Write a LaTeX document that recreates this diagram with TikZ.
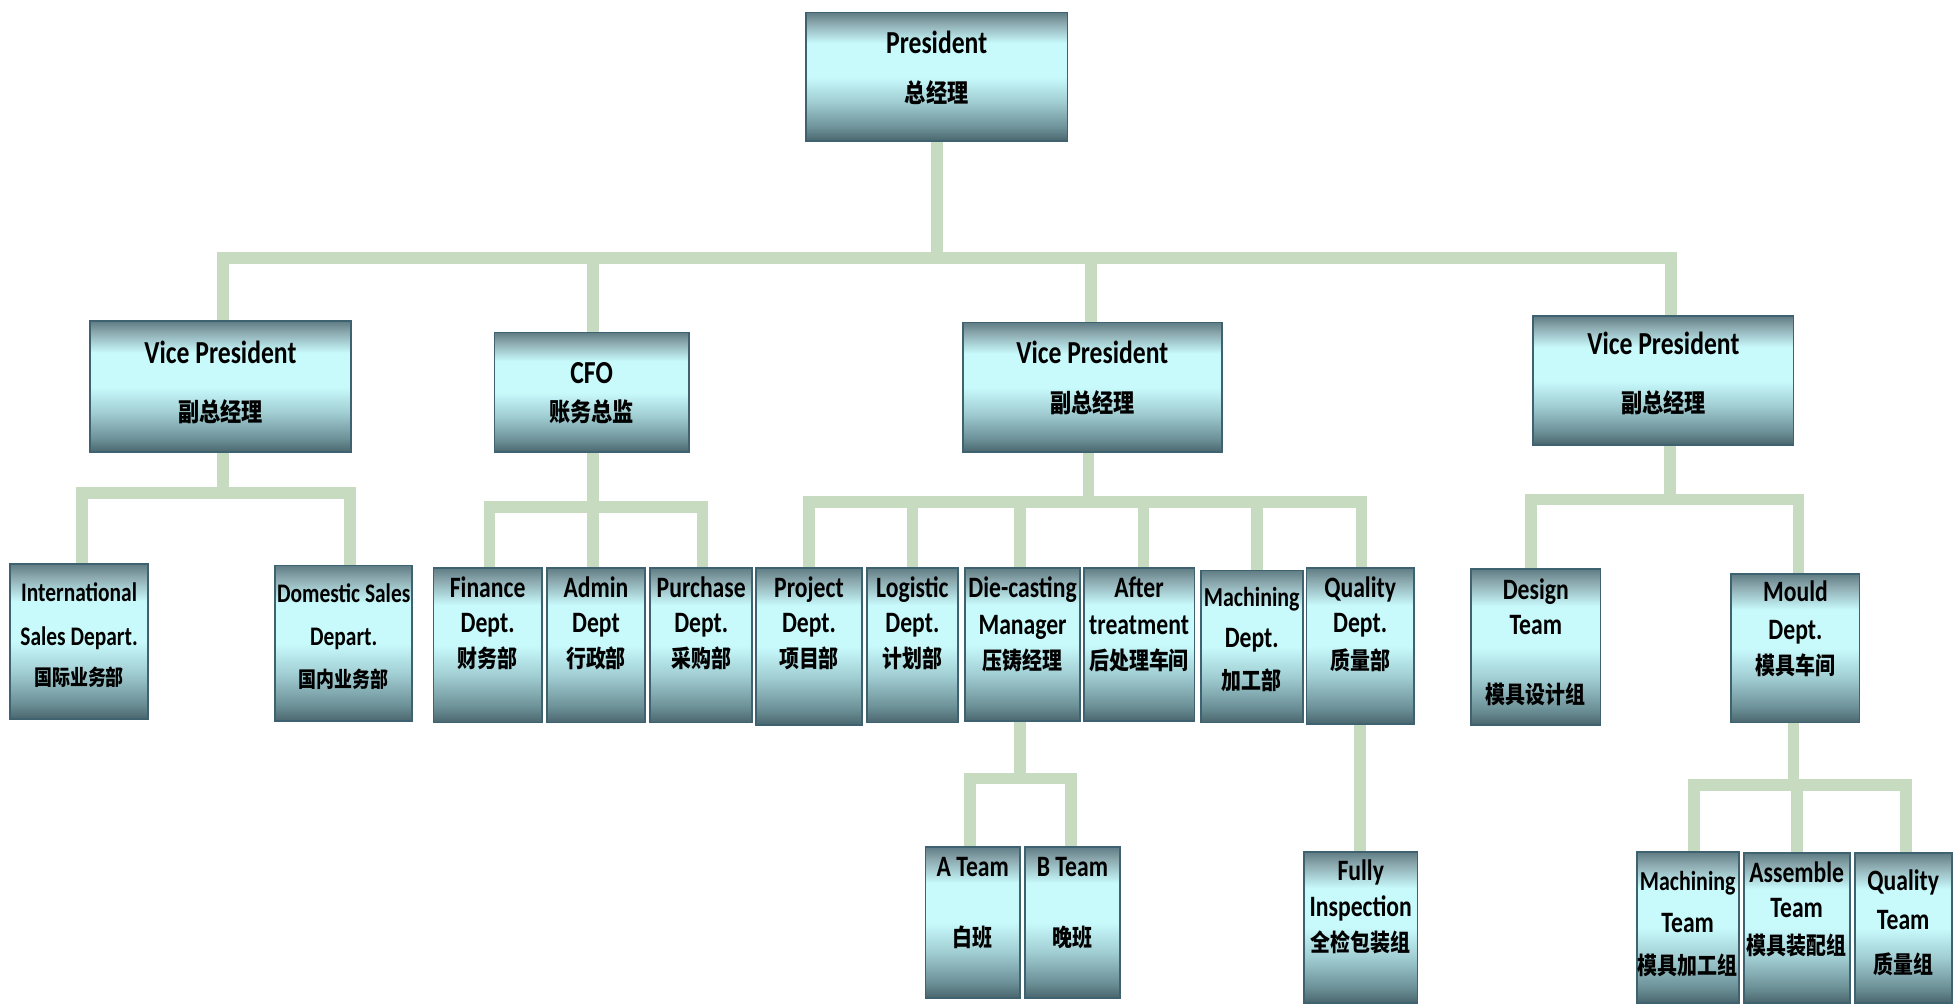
\documentclass[tikz,border=0pt]{standalone}
\usepackage{fontspec}
\setmainfont{Carlito}
\newfontfamily\cjk{Noto Sans CJK SC}
\usetikzlibrary{fit,backgrounds,calc}
\definecolor{sha}{RGB}{74,102,110}
\definecolor{shb}{RGB}{108,144,151}
\definecolor{shc}{RGB}{160,205,210}
\definecolor{shd}{RGB}{200,250,252}
\definecolor{she}{RGB}{138,168,174}
\definecolor{shf}{RGB}{96,124,132}
\definecolor{bord}{RGB}{62,98,112}
\definecolor{lineg}{RGB}{198,219,191}
\pgfdeclareverticalshading{boxshade}{100bp}{color(0bp)=(sha); color(25bp)=(sha); color(30bp)=(shb); color(40bp)=(shc); color(50bp)=(shd); color(63bp)=(shd); color(71bp)=(she); color(75bp)=(shf); color(100bp)=(shf)}
\newcommand\enA{\bfseries\fontsize{10.3}{12}\selectfont}
\newcommand\enB{\bfseries\fontsize{9.5}{11}\selectfont}
\newcommand\enC{\bfseries\fontsize{8.6}{10}\selectfont}
\newcommand\enD{\bfseries\fontsize{8.8}{10}\selectfont}
\newcommand\zhA{\cjk\bfseries\fontsize{8.5}{10}\selectfont}
\newcommand\zhB{\cjk\bfseries\fontsize{8}{10}\selectfont}
\newcommand\zhC{\cjk\bfseries\fontsize{7.2}{9}\selectfont}
\newcommand\bx[5]{\node[orgbox, fit={(#2,#3) (#4,#5)}] (#1) {};}
\newcommand\te[4]{\node[txt, text height=7.6pt] (#1) at (#2.center |- 0,#3) {\scalebox{1}[1.25]{#4}};}
\newcommand\tz[4]{\node[txt, text height=7.2pt] (#1) at (#2.center |- 0,#3) {\scalebox{1}[1.2]{#4}};}
\begin{document}
\begin{tikzpicture}[x=0.5pt,y=-0.5pt,
  orgbox/.style={draw=bord, line width=0.7pt, shading=boxshade, inner sep=0pt},
  txt/.style={inner sep=0pt, text depth=0pt, anchor=center, text=black},
  conn/.style={draw=lineg, line width=4.7pt, line join=miter}]
\useasboundingbox (0,0) rectangle (1568,807);
% boxes
\bx{pres}{647}{10}{857}{113}
\bx{vpa}{72}{258}{282}{363}
\bx{cfo}{397}{267}{553}{363}
\bx{vpb}{773}{259}{981}{363}
\bx{vpc}{1231}{254}{1440}{357}
\bx{intl}{8}{453}{119}{577}
\bx{dom}{221}{454}{331}{579}
\bx{fin}{348}{456}{435}{580}
\bx{adm}{439}{456}{518}{580}
\bx{pur}{522}{456}{604}{580}
\bx{prj}{607}{456}{692}{582}
\bx{lgs}{696}{456}{769}{580}
\bx{die}{775}{456}{867}{579}
\bx{aft}{870}{456}{959}{579}
\bx{mac}{964}{458}{1046}{580}
\bx{qua}{1049}{456}{1135}{581}
\bx{des}{1181}{457}{1285}{582}
\bx{mou}{1390}{461}{1493}{580}
\bx{tma}{743}{680}{819}{801}
\bx{tmb}{823}{680}{899}{801}
\bx{ful}{1047}{684}{1138}{805}
\bx{mct}{1314}{684}{1396}{805}
\bx{ast}{1400}{685}{1485}{805}
\bx{qlt}{1489}{685}{1567}{805}
% texts
\te{pres1}{pres}{35}{\enA President}
\tz{pres2}{pres}{75}{\zhA 总经理}
\te{vpa1}{vpa}{284}{\enA Vice President}
\tz{vpa2}{vpa}{331}{\zhA 副总经理}
\te{cfo1}{cfo}{300}{\enA CFO}
\tz{cfo2}{cfo}{331}{\zhA 账务总监}
\te{vpb1}{vpb}{284}{\enA Vice President}
\tz{vpb2}{vpb}{324}{\zhA 副总经理}
\te{vpc1}{vpc}{277}{\enA Vice President}
\tz{vpc2}{vpc}{324}{\zhA 副总经理}
\te{intl1}{intl}{475}{\enC International}
\te{intl2}{intl}{511}{\enC Sales Depart.}
\tz{intl3}{intl}{543}{\zhC 国际业务部}
\te{dom1}{dom}{476}{\enC Domestic Sales}
\te{dom2}{dom}{511}{\enC Depart.}
\tz{dom3}{dom}{545}{\zhC 国内业务部}
\te{fin1}{fin}{472}{\enB Finance}
\te{fin2}{fin}{500}{\enB Dept.}
\tz{fin3}{fin}{529}{\zhB 财务部}
\te{adm1}{adm}{472}{\enB Admin}
\te{adm2}{adm}{500}{\enB Dept}
\tz{adm3}{adm}{529}{\zhB 行政部}
\te{pur1}{pur}{472}{\enB Purchase}
\te{pur2}{pur}{500}{\enB Dept.}
\tz{pur3}{pur}{529}{\zhB 采购部}
\te{prj1}{prj}{472}{\enB Project}
\te{prj2}{prj}{500}{\enB Dept.}
\tz{prj3}{prj}{529}{\zhB 项目部}
\te{lgs1}{lgs}{472}{\enB Logistic}
\te{lgs2}{lgs}{500}{\enB Dept.}
\tz{lgs3}{lgs}{529}{\zhB 计划部}
\te{die1}{die}{472}{\enB Die-casting}
\te{die2}{die}{502}{\enB Manager}
\tz{die3}{die}{530}{\zhB 压铸经理}
\te{aft1}{aft}{472}{\enB After}
\te{aft2}{aft}{502}{\enB treatment}
\tz{aft3}{aft}{530}{\zhB 后处理车间}
\te{mac1}{mac}{479}{\enD Machining}
\te{mac2}{mac}{512}{\enB Dept.}
\tz{mac3}{mac}{546}{\zhB 加工部}
\te{qua1}{qua}{472}{\enB Quality}
\te{qua2}{qua}{500}{\enB Dept.}
\tz{qua3}{qua}{530}{\zhB 质量部}
\te{des1}{des}{474}{\enB Design}
\te{des2}{des}{502}{\enB Team}
\tz{des3}{des}{558}{\zhB 模具设计组}
\te{mou1}{mou}{475}{\enB Mould}
\te{mou2}{mou}{506}{\enB Dept.}
\tz{mou3}{mou}{534}{\zhB 模具车间}
\te{tma1}{tma}{696}{\enB A Team}
\tz{tma2}{tma}{753}{\zhB 白班}
\te{tmb1}{tmb}{696}{\enB B Team}
\tz{tmb2}{tmb}{753}{\zhB 晚班}
\te{ful1}{ful}{699}{\enB Fully}
\te{ful2}{ful}{728}{\enB Inspection}
\tz{ful3}{ful}{757}{\zhB 全检包装组}
\te{mct1}{mct}{707}{\enD Machining}
\te{mct2}{mct}{741}{\enB Team}
\tz{mct3}{mct}{775}{\zhB 模具加工组}
\te{ast1}{ast}{701}{\enB Assemble}
\te{ast2}{ast}{729}{\enB Team}
\tz{ast3}{ast}{759}{\zhB 模具装配组}
\te{qlt1}{qlt}{707}{\enB Quality}
\te{qlt2}{qlt}{739}{\enB Team}
\tz{qlt3}{qlt}{774}{\zhB 质量组}
% connectors
\begin{scope}[on background layer]
\fill[white] (0,0) rectangle (1568,807);
\coordinate (j0) at (752,207);
\coordinate (j1) at (179,396);
\coordinate (j2) at (476,407);
\coordinate (j3) at (874,403);
\coordinate (j4) at (1341,401);
\coordinate (j5) at (819,625);
\coordinate (j6) at (1440,630);
\draw[conn] (pres.south -| j0) -- (j0) -| ($(vpa.north)+(2,0)$);
\draw[conn] (pres.south -| j0) -- (j0) -| ($(cfo.north)+(1,0)$);
\draw[conn] (pres.south -| j0) -- (j0) -| ($(vpb.north)+(-1,0)$);
\draw[conn] (pres.south -| j0) -- (j0) -| ($(vpc.north)+(6,0)$);
\draw[conn] (vpa.south -| j1) -- (j1) -| ($(intl.north)+(2.5,0)$);
\draw[conn] (vpa.south -| j1) -- (j1) -| ($(dom.north)+(5,0)$);
\draw[conn] (cfo.south -| j2) -- (j2) -| ($(fin.north)+(1.5,0)$);
\draw[conn] (cfo.south -| j2) -- (j2) -| ($(adm.north)+(-2.5,0)$);
\draw[conn] (cfo.south -| j2) -- (j2) -| ($(pur.north)+(1,0)$);
\draw[conn] (vpb.south -| j3) -- (j3) -| (prj.north);
\draw[conn] (vpb.south -| j3) -- (j3) -| (lgs.north);
\draw[conn] (vpb.south -| j3) -- (j3) -| ($(die.north)+(-2,0)$);
\draw[conn] (vpb.south -| j3) -- (j3) -| ($(aft.north)+(3.5,0)$);
\draw[conn] (vpb.south -| j3) -- (j3) -| ($(mac.north)+(4,0)$);
\draw[conn] (vpb.south -| j3) -- (j3) -| ($(qua.north)+(1,0)$);
\draw[conn] (vpc.south -| j4) -- (j4) -| ($(des.north)+(-4,0)$);
\draw[conn] (vpc.south -| j4) -- (j4) -| ($(mou.north)+(2.5,0)$);
\draw[conn] (die.south -| j5) -- (j5) -| ($(tma.north)+(-2,0)$);
\draw[conn] (die.south -| j5) -- (j5) -| ($(tmb.north)+(-1,0)$);
\draw[conn] (qua.south) -- (qua.south |- ful.north);
\draw[conn] (mou.south -| j6) -- (j6) -| ($(mct.north)+(5,0)$);
\draw[conn] (mou.south -| j6) -- (j6) -| (ast.north);
\draw[conn] (mou.south -| j6) -- (j6) -| ($(qlt.north)+(2.5,0)$);
\end{scope}
\end{tikzpicture}
\end{document}
